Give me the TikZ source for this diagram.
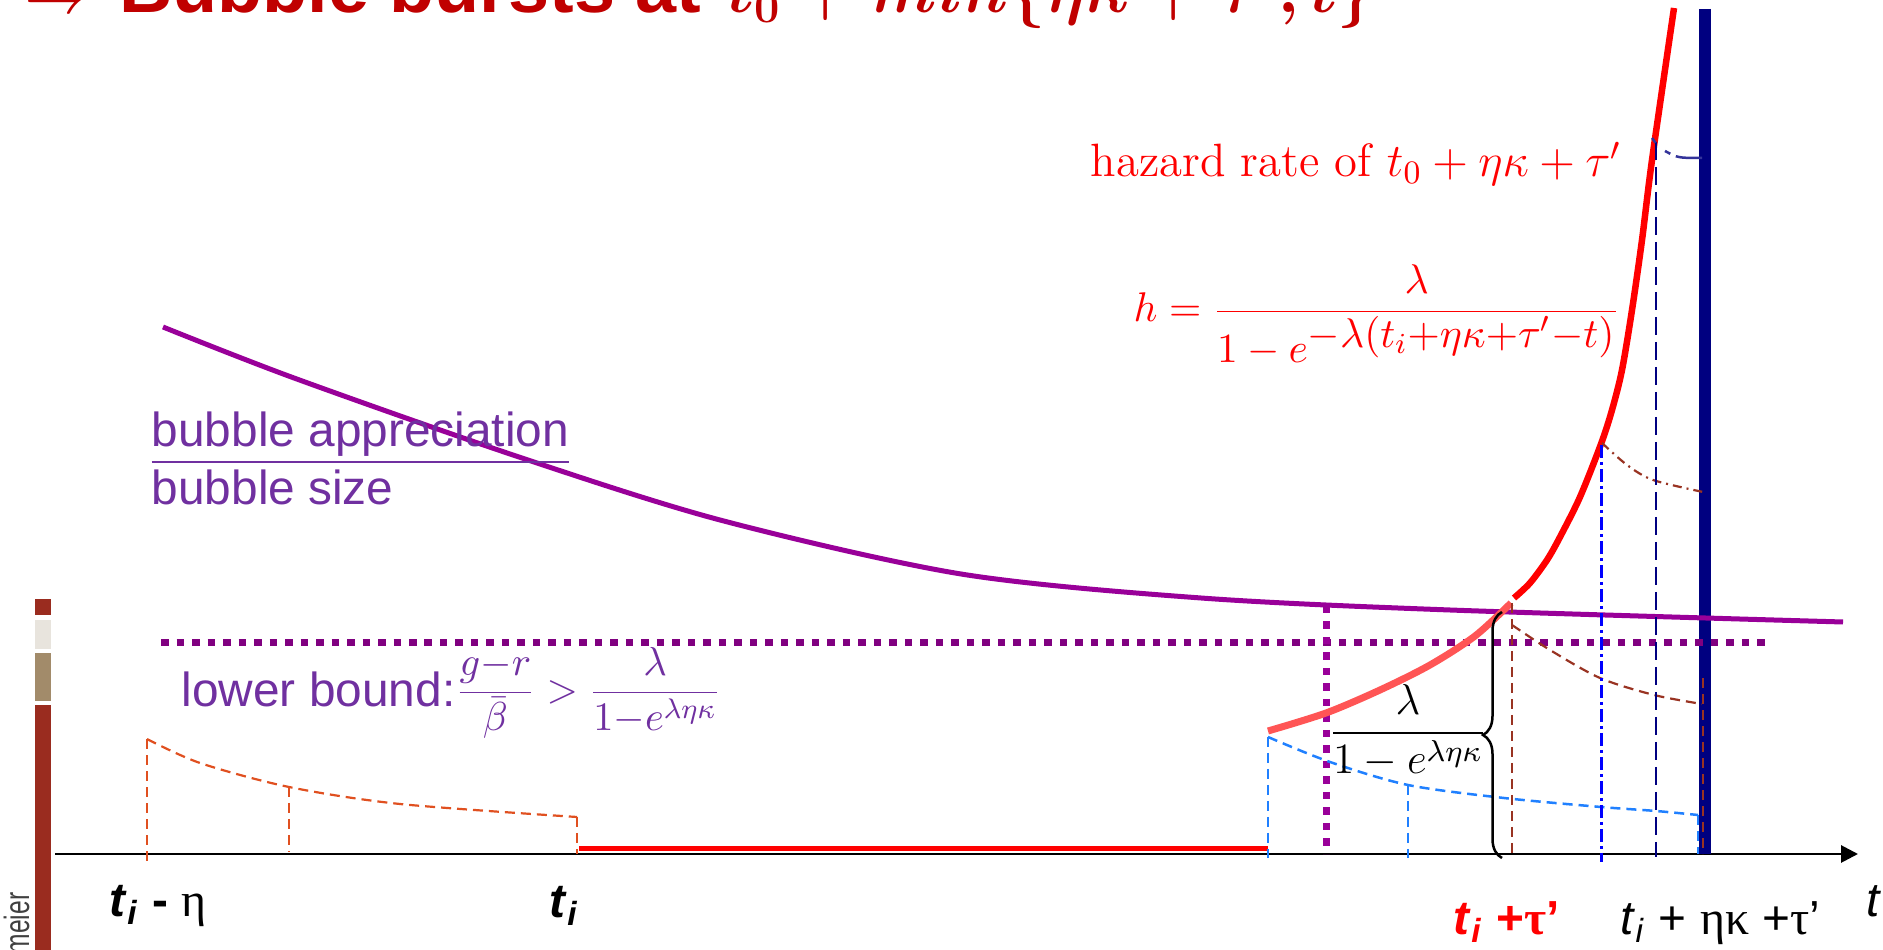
\RequirePackage{fix-cm}
\documentclass[tikz,border=0pt]{standalone}
\usepackage{fontspec}
\setsansfont{Liberation Sans}
\newfontfamily\greekfont{Liberation Serif}
\usepackage{graphicx}
\usetikzlibrary{arrows.meta,decorations.pathreplacing}

\definecolor{titlered}{HTML}{C00000}
\definecolor{bubblepurple}{HTML}{990099}
\definecolor{boundpurple}{HTML}{800080}
\definecolor{textpurple}{HTML}{7030A0}
\definecolor{lightred}{HTML}{FF5555}
\definecolor{navybar}{HTML}{000080}
\definecolor{dashorange}{HTML}{E05020}
\definecolor{dashblue}{HTML}{2080FF}
\definecolor{dashbrown}{HTML}{993322}
\definecolor{barred}{HTML}{9A2C1F}
\definecolor{bargrey}{HTML}{E8E4DD}
\definecolor{bartan}{HTML}{A28B6A}

\begin{document}
\begin{tikzpicture}[x=0.1mm, y=-0.1mm,
    dashthin/.style={line width=0.22mm, dash pattern=on 1mm off 0.6mm},
    dotbound/.style={boundpurple, line width=0.7mm, dash pattern=on 0.75mm off 0.8mm},
    ticklabel/.style={font=\sffamily\fontsize{13.6}{16}\selectfont, anchor=base west, inner sep=0pt},
    purplelabel/.style={textpurple, font=\sffamily\fontsize{13.6}{16}\selectfont, anchor=base west, inner sep=0pt}]
        \useasboundingbox (0,0) rectangle (1883,950);
        \clip (0,0) rectangle (1883,950);

        % Title, cut off at the top
        \node[titlered, anchor=base west, inner sep=0pt, font=\sffamily\bfseries\fontsize{21}{25}\selectfont] (title) at (24,13)
        {$\Rightarrow$ Bubble bursts at\hspace{2.6mm}{\fontsize{18.3}{22}\selectfont\boldmath$t_0+min\{\eta\kappa+\tau',t\}$}};

        % Side bar
        \fill[barred] (35,599) rectangle (51,615);
        \fill[bargrey] (35,620) rectangle (51,649);
        \fill[bartan] (35,653) rectangle (51,701);
        \fill[barred] (35,705) rectangle (51,950);
        \node[rotate=90, anchor=base east, inner sep=0pt, text=black!75, font=\sffamily\fontsize{10}{12}\selectfont] (author) at (29,892) {\scalebox{0.7}[1]{meier}};

        % Time axis
        \coordinate (origin) at (55,854);
        \coordinate (tend) at (1858,854);
        \draw[line width=0.28mm, -{Triangle[length=1.7mm,width=1.7mm]}] (origin) -- (tend);

        % Bursting date
        \draw[navybar, line width=1.2mm] (1705,9) -- (1705,854);

        % Lower bound
        \draw[dotbound] (161,643) -- (1769,643);
        \draw[dotbound, bubblepurple] (1326,606) -- (1326,854);

        % Bubble size
        \draw[bubblepurple, line width=0.5mm] plot[smooth] coordinates {(163,327) (294,378) (516,456) (720,520) (961,574) (1201,598) (1450,610) (1843,622)};

        % Hazard rate
        \draw[red, line width=0.5mm] (579,849) -- (1268,849);
        \draw[lightred, line width=0.7mm] plot[smooth] coordinates {(1268,731) (1326,713) (1380,690) (1430,665) (1475,636) (1511,603)};
        \draw[red, line width=0.65mm] plot[smooth] coordinates {(1514,598) (1530,583) (1547,560) (1560,537) (1580,497) (1601,444) (1612,410) (1622,370) (1632,310) (1642,240) (1652,160) (1674,8)};

        % Sell-out densities
        \draw[dashthin, dashorange] plot[smooth] coordinates {(147,739) (200,763) (289,787) (400,804) (577,817)};
        \draw[dashthin, dashorange] (147,861) -- (147,739);
        \draw[dashthin, dashorange] (289,787) -- (289,852);
        \draw[dashthin, dashorange] (577,817) -- (577,854);

        \draw[dashthin, dashblue, line width=0.25mm] plot[smooth] coordinates {(1268,737) (1330,762) (1408,785) (1504,798) (1601,807) (1656,811) (1698,815)};
        \draw[dashthin, dashblue, line width=0.25mm] (1268,737) -- (1268,858);
        \draw[dashthin, dashblue, line width=0.25mm] (1408,785) -- (1408,858);
        \draw[dashthin, dashblue, line width=0.25mm] (1698,815) -- (1698,854);

        \draw[dashthin, dashbrown] plot[smooth] coordinates {(1512,625) (1550,650) (1600,678) (1654,695) (1702,704)};
        \draw[dashthin, dashbrown] (1512,603) -- (1512,854);
        \draw[dashthin, dashbrown] (1703,678) -- (1703,854);

        \draw[dashbrown, line width=0.22mm, dash pattern=on 0.9mm off 0.5mm on 0.2mm off 0.5mm] plot[smooth] coordinates {(1602,443) (1627,465) (1653,480) (1703,492)};
        \draw[blue, line width=0.3mm, dash pattern=on 1.3mm off 0.4mm on 0.3mm off 0.4mm] (1601,445) -- (1601,862);

        \draw[navybar, line width=0.25mm, dash pattern=on 1.8mm off 0.7mm] (1656,142) -- (1656,857);
        \draw[navybar!80!white, line width=0.25mm, dash pattern=on 0.6mm off 0.6mm on 2.5mm off 0mm] (1652,138) -- (1658,146) (1665,151) .. controls (1678,158) .. (1702,158);

        % Brace with the jump
        \draw[line width=0.25mm, decorate, decoration={brace, amplitude=1.9mm}] (1502,858) -- (1502,612);
        \node[anchor=base, inner sep=0pt, font=\fontsize{12.3}{14}\selectfont] (jump) at (1408,744)
        {$\displaystyle\frac{\lambda}{1-e^{\lambda\eta\kappa}}$};

        % Labels of the hazard rate
        \node[red, anchor=base west, inner sep=0pt, font=\fontsize{13.3}{16}\selectfont] (hazard) at (1090,177)
        {hazard rate of $t_0+\eta\kappa+\tau'$};
        \node[red, anchor=base west, inner sep=0pt, font=\fontsize{11.8}{14}\selectfont] (hform) at (1133,322)
        {$\displaystyle h=\frac{\lambda}{1-e^{\textstyle-\lambda(t_i{+}\eta\kappa{+}\tau'{-}t)}}$};

        % Labels of the bubble
        \node[purplelabel] (apprec) at (151,447) {\underline{bubble appreciation}};
        \node[purplelabel] (size) at (151,505) {bubble size};
        \node[purplelabel] (lbound) at (181,707) {lower bound:\raisebox{0.45mm}{\fontsize{11.5}{13}\selectfont$\displaystyle\frac{g{-}r}{\bar\beta}>\frac{\lambda}{1{-}e^{\lambda\eta\kappa}}$}};

        % Time labels
        \node[ticklabel] (tieta) at (109,917) {\textbf{\textit{t}\textsubscript{\textit{i}} -} {\greekfont η}};
        \node[ticklabel] (ti) at (549,918) {\textbf{\textit{t}\textsubscript{\textit{i}}}};
        \node[ticklabel, red] (titau) at (1453,935) {\textbf{\textit{t}\textsubscript{\textit{i}} +}{\greekfont\bfseries τ}\textbf{’}};
        \node[ticklabel] (tiend) at (1620,935) {\textit{t}\textsubscript{\textit{i}} + {\greekfont ηκ} +{\greekfont τ}’};
        \node[ticklabel] (taxis) at (1866,917) {\textit{t}};
    \end{tikzpicture}
\end{document}
